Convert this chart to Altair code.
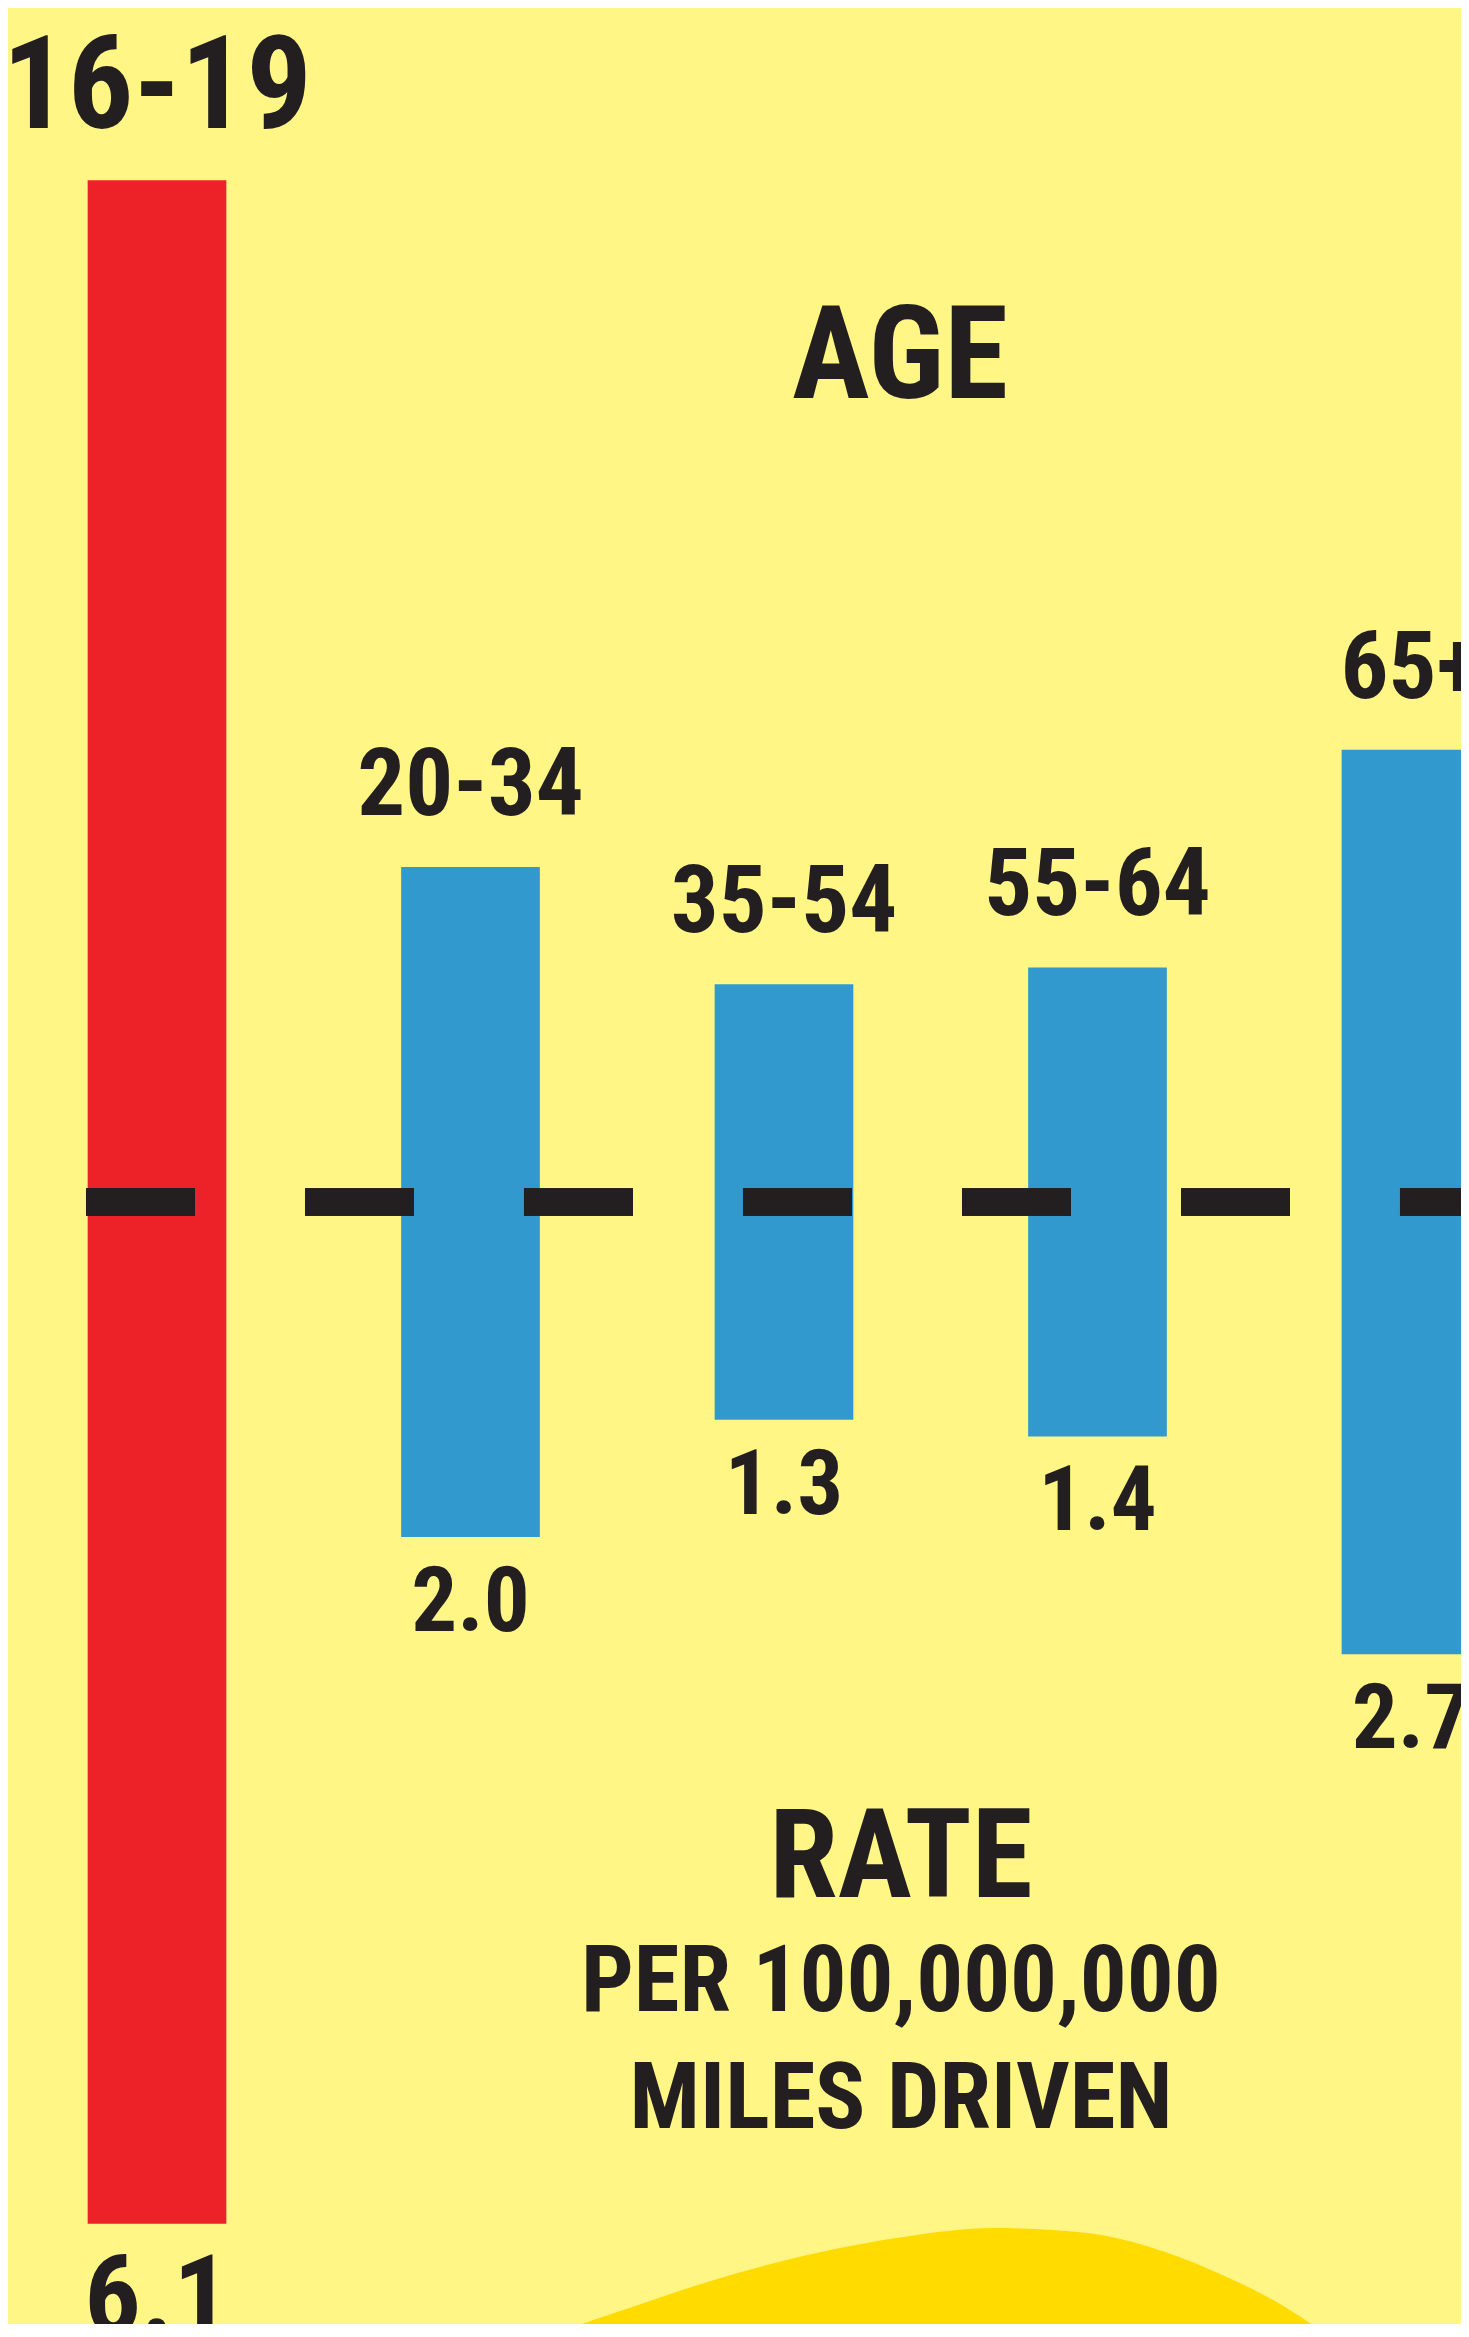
import altair as alt
import pandas as pd

# ---- data ----
age_groups = ["16-19", "20-34", "35-54", "55-64", "65+"]
rates = [6.1, 2.0, 1.3, 1.4, 2.7]          # deaths per 100,000,000 miles driven
rate_labels = ["6.1", "2.0", "1.3", "1.4", "2.7"]

# decorative hill at the bottom (x in group units, y in rate units)
hill_x = [0.944, 1.231, 1.490, 1.745, 2.118, 2.376, 2.670, 2.967, 3.164, 3.362, 3.560, 3.745, 3.895]
hill_y = [-3.478, -3.388, -3.307, -3.227, -3.134, -3.090, -3.063, -3.078, -3.119, -3.188, -3.278, -3.388, -3.478]

BG = "#FFF685"
RED = "#ED2128"
BLUE = "#3199CE"
INK = "#231F20"
HILL = "#FFDB00"
FONT = "Roboto Condensed, Liberation Sans, Arial, sans-serif"

df = pd.DataFrame({
    "age": age_groups,
    "rate": rates,
    "label": rate_labels,
    "pos": list(range(len(age_groups))),
})
hill = pd.DataFrame({"hx": hill_x, "hy": hill_y})

xs = alt.Scale(domain=[-0.4753, 4.1595], nice=False, zero=False)
ys = alt.Scale(domain=[-3.3493, 3.5642], nice=False, zero=False)

def X(field):
    return alt.X(field, type="quantitative", scale=xs, axis=None)

def Y(field):
    return alt.Y(field, type="quantitative", scale=ys, axis=None)

base = alt.Chart(df).transform_calculate(
    top="datum.rate / 2",
    bottom="-datum.rate / 2",
    x_lo="datum.pos - 0.2212",
    x_hi="datum.pos + 0.2212",
)

hill_layer = alt.Chart(hill).mark_area(color=HILL, interpolate="monotone", clip=True).encode(
    x=X("hx"),
    y=Y("hy"),
    y2=alt.Y2Datum(-3.7),
)

bars = base.mark_bar(clip=True).encode(
    x=X("x_lo"),
    x2="x_hi:Q",
    y=Y("bottom"),
    y2="top:Q",
    color=alt.condition("datum.age == '16-19'", alt.value(RED), alt.value(BLUE)),
)

center = alt.Chart(df).mark_rule(
    color=INK, strokeWidth=27, strokeDash=[109, 110], strokeCap="butt", clip=True
).encode(
    x=alt.XDatum(-0.2265, type="quantitative", scale=xs, axis=None),
    x2=alt.X2Datum(4.6),
    y=alt.YDatum(0, type="quantitative", scale=ys, axis=None),
)

teen = base.transform_filter("datum.age == '16-19'")
rest = base.transform_filter("datum.age != '16-19'")

txt = dict(font=FONT, fontWeight="bold", color=INK, align="center", baseline="alphabetic", clip=True)

teen_age = teen.mark_text(fontSize=130, dy=-52, **txt).encode(x=X("pos"), y=Y("top"), text="age:N")
rest_age = rest.mark_text(fontSize=95, dy=-52, **txt).encode(x=X("pos"), y=Y("top"), text="age:N")
teen_val = teen.mark_text(fontSize=112, dy=110, **txt).encode(x=X("pos"), y=Y("bottom"), text="label:N")
rest_val = rest.mark_text(fontSize=91, dy=94, **txt).encode(x=X("pos"), y=Y("bottom"), text="label:N")

def note(text, xv, yv, size, weight="bold", **kw):
    return alt.Chart(df).mark_text(
        text=text, font=FONT, fontSize=size, fontWeight=weight, color=INK,
        align="center", baseline="alphabetic", clip=True, **kw
    ).encode(
        x=alt.XDatum(xv, type="quantitative", scale=xs, axis=None),
        y=alt.YDatum(yv, type="quantitative", scale=ys, axis=None),
    ).transform_filter("datum.pos == 0")

age_title = note("AGE", 2.370, 2.40, 130)
rate_title = note("RATE", 2.373, -2.0746, 124)
rate_sub = note(["PER 100,000,000", "MILES DRIVEN"], 2.373, -2.415, 93, lineHeight=117)

chart = alt.layer(
    hill_layer, bars, center, teen_age, rest_age, teen_val, rest_val,
    age_title, rate_title, rate_sub,
).properties(
    width=1453, height=2316,
    autosize=alt.AutoSizeParams(type="none"),
    padding=0,
    background=BG,
).configure_view(stroke=None, fill=BG)

chart.save("out.html", embed_options={"renderer": "svg", "actions": False})
